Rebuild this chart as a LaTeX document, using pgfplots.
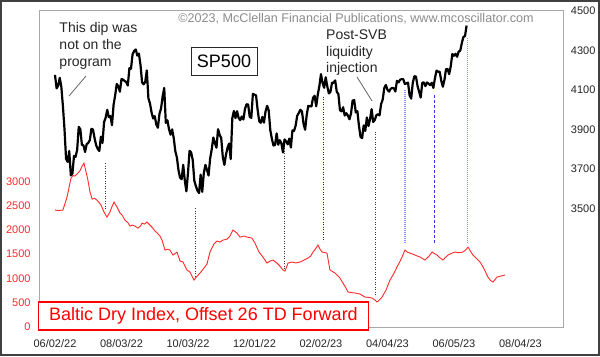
\documentclass[border=0pt]{standalone}
\usepackage{pgfplots}
\pgfplotsset{compat=1.18}
\usepackage{fontspec}
\setmainfont{Liberation Sans}
\definecolor{bdired}{HTML}{FF2A2A}
\definecolor{frame}{HTML}{A8A8A8}
\definecolor{lblue}{HTML}{8C8CFF}
\begin{document}
\begin{tikzpicture}[x=1bp,y=1bp]
\useasboundingbox (0,0) rectangle (600,356);
\fill[white] (0,0) rectangle (600,356);
% ---------------- Baltic Dry Index (left axis) ----------------
\begin{axis}[at={(39bp,29bp)}, anchor=south west, scale only axis,
  width=524bp, height=317bp,
  xmin=-10.1, xmax=320.9, ymin=0, ymax=6530,
  axis line style={frame, line width=0.8bp},
  tick style={draw=none},
  xtick={0,42,84,126,168,210,252,294},
  xticklabels={06/02/22,08/03/22,10/03/22,12/01/22,02/02/23,04/04/23,06/05/23,08/04/23},
  ytick={0,500,1000,1500,2000,2500,3000},
  scaled y ticks=false,
  /pgf/number format/1000 sep={},
  /pgf/number format/assume math mode=true,
  xticklabel style={font=\fontsize{11bp}{13bp}\selectfont, text=black!85, anchor=base, inner sep=0pt, yshift=-20.3bp},
  yticklabel style={font=\fontsize{11bp}{13bp}\selectfont, text=bdired, anchor=east, inner sep=0pt, xshift=-8.3bp},
  clip=false,
]
\addplot[bdired, line width=0.9bp] coordinates {
(0,2408) (2,2400) (5,2408) (7.6,2675) (10.1,3066) (11.3,3120) (12.6,3108) (14.5,3169)
(16,3230) (17.1,3313) (18.3,3375) (19.5,3210) (20.8,3025) (22,2800) (23.4,2634)
(25,2650) (26.5,2614) (28,2560) (29.1,2510) (31,2367) (32.8,2264) (34.7,2367)
(36,2480) (37.3,2572) (39.2,2470) (41.1,2346) (42.5,2300) (44.2,2202) (46,2150)
(47.4,2079) (49,2100) (50.5,2079) (52.4,2037) (54,2080) (55,2140) (56.5,2120)
(58.1,2161) (60,2099) (61.5,2050) (63.2,1976) (64.8,1930) (66.3,1873) (67.6,1790)
(69.5,1585) (71,1600) (72.6,1585) (74.5,1482) (77.1,1543) (79,1358) (80.9,1338)
(82,1260) (83.4,1173) (85.3,1132) (86.5,1050) (87.8,967) (89.5,1040) (91.6,1111)
(94.1,1214) (96,1297) (97.9,1544) (100.4,1708) (102.3,1770) (104.2,1749) (106.1,1790)
(108.7,1811) (110.5,1873) (112.4,1996) (115,1935) (116.9,1852) (119.4,1873)
(121.3,1852) (124.4,1832) (126.3,1729) (128.9,1544) (131.4,1440) (133.9,1317)
(135.8,1358) (137.7,1379) (140.2,1317) (142.1,1255) (144,1173) (145.3,1152)
(147.2,1317) (149.7,1338) (152.2,1320) (154.8,1338) (157.3,1379) (159.8,1420)
(161.5,1460) (163,1544) (164.9,1626) (166.1,1688) (167.5,1600) (168.7,1544)
(171.8,1523) (173.7,1173) (176.9,1111) (178.5,1060) (180,1008) (181.9,906)
(183.5,820) (185.1,720) (187,710) (189.5,700) (192.7,679) (195.8,617) (198,610)
(200.3,597) (202,560) (203.4,514) (205,560) (206.6,617) (209.1,761) (211.6,967)
(214.2,1111) (216,1235) (217.6,1330) (219.2,1440) (221.1,1585) (222.7,1540)
(224.3,1523) (226,1500) (227.4,1482) (229,1460) (230.6,1440) (233.7,1379)
(236.3,1461) (238.2,1544) (239.8,1510) (241.3,1482) (243,1430) (245.1,1379)
(246.5,1430) (248.3,1482) (250.5,1520) (252.7,1544) (255,1530) (257.7,1544)
(259.5,1590) (260.9,1646) (262.5,1560) (264,1482) (266,1420) (268.5,1338)
(270.4,1235) (272,1130) (273.5,1029) (275,960) (276.7,926) (278,980) (279.2,1029)
(281.7,1050) (284.3,1070)
};
% guide lines
\addplot[black!80, line width=0.7bp, dash pattern=on 1bp off 1.5bp] coordinates {(31.6,3378) (31.6,2410)};
\addplot[black!80, line width=0.7bp, dash pattern=on 1bp off 1.5bp] coordinates {(88.4,2451) (88.4,1009)};
\addplot[black!80, line width=0.7bp, dash pattern=on 1bp off 1.5bp] coordinates {(144.7,3687) (144.7,1174)};
\addplot[black!80, line width=0.7bp, dash pattern=on 1bp off 1.5bp] coordinates {(202.2,4017) (202.2,618)};
\addplot[blue, line width=0.8bp, dash pattern=on 1bp off 1.5bp] coordinates {(169.3,4738) (169.3,1751)};
\addplot[lblue, line width=1.1bp, dash pattern=on 1bp off 1bp] coordinates {(221.1,4882) (221.1,1730)};
\addplot[blue!80, line width=0.9bp, dash pattern=on 3bp off 2bp] coordinates {(239.5,4779) (239.5,1730)};
\addplot[lblue, line width=1.1bp, dash pattern=on 1bp off 1bp] coordinates {(260.3,5953) (260.3,1730)};
\end{axis}
% ---------------- SP500 (right axis) ----------------
\begin{axis}[at={(39bp,29bp)}, anchor=south west, scale only axis,
  width=524bp, height=317bp,
  xmin=-10.1, xmax=320.9, ymin=2898, ymax=4505,
  hide x axis, axis y line*=right,
  axis line style={frame, line width=0.8bp},
  tick style={draw=none},
  ytick={3500,3700,3900,4100,4300,4500},
  scaled y ticks=false,
  /pgf/number format/1000 sep={},
  /pgf/number format/assume math mode=true,
  yticklabel style={font=\fontsize{11bp}{13bp}\selectfont, text=black!85, anchor=west, inner sep=0pt, xshift=7.7bp},
]
\addplot[black, line width=2.2bp, line join=round] table {
0 4176
1 4108
2 4121
3 4161
4 4116
5 4018
6 3901
7 3750
8 3735
9 3790
10 3667
11 3675
12 3765
13 3760
14 3796
15 3912
16 3901
17 3821
18 3819
19 3785
20 3825
21 3831
22 3845
23 3903
24 3899
25 3855
26 3819
27 3801
28 3790
29 3863
30 3831
31 3937
32 3959
33 3999
34 3962
35 3967
36 3921
37 4024
38 4072
39 4130
40 4119
41 4091
42 4155
43 4152
44 4145
45 4140
46 4122
47 4210
48 4207
49 4280
50 4297
51 4305
52 4274
53 4284
54 4228
55 4138
56 4128
57 4141
58 4199
59 4058
60 4031
61 3986
62 3955
63 3967
64 3924
65 3908
66 3979
67 4006
68 4067
69 4110
70 3933
71 3946
72 3901
73 3873
74 3900
75 3856
76 3790
77 3758
78 3693
79 3655
80 3647
81 3720
82 3640
83 3586
84 3678
85 3791
86 3783
87 3745
88 3640
89 3612
90 3589
91 3577
92 3670
93 3583
94 3677
95 3720
96 3695
97 3666
98 3752
99 3798
100 3859
101 3831
102 3807
103 3901
104 3872
105 3856
106 3760
107 3720
108 3771
109 3807
110 3828
111 3749
112 3956
113 3993
114 3957
115 3992
116 3958
117 3947
118 3965
119 3950
120 4003
121 4027
122 4026
123 3964
124 3958
125 4080
126 4076
127 4072
128 3999
129 3941
130 3933
131 3963
132 3934
133 3991
134 4019
135 3996
136 3896
137 3852
138 3818
139 3821
140 3879
141 3822
142 3845
143 3829
144 3783
145 3849
146 3839
147 3824
148 3853
149 3808
150 3895
151 3892
152 3919
153 3969
154 3983
155 3999
156 3991
157 3928
158 3898
159 3973
160 4019
161 4017
162 4016
163 4060
164 4070
165 4017
166 4077
167 4119
168 4180
169 4136
170 4111
171 4164
172 4118
173 4082
174 4090
175 4137
176 4136
177 4148
178 4090
179 4079
180 3997
181 3991
182 4012
183 3970
184 3982
185 3970
186 3951
187 3981
188 4046
189 4048
190 3986
191 3992
192 3918
193 3862
194 3855
195 3920
196 3892
197 3960
198 3917
199 3951
200 4002
201 3937
202 3948
203 3971
204 3977
205 3971
206 4028
207 4051
208 4109
209 4125
210 4101
211 4091
212 4105
213 4110
214 4108
215 4092
216 4146
217 4138
218 4151
219 4155
220 4154
221 4130
222 4133
223 4137
224 4072
225 4056
226 4136
227 4169
228 4168
229 4120
230 4091
231 4061
232 4136
233 4138
234 4119
235 4138
236 4131
237 4124
238 4136
239 4110
240 4159
241 4198
242 4192
243 4192
244 4146
245 4116
246 4151
247 4205
248 4206
249 4180
250 4221
251 4282
252 4273
253 4283
254 4268
255 4294
256 4299
257 4338
258 4369
259 4373
260 4426
};
\end{axis}
% ---------------- annotations ----------------
\node[anchor=base, text=black!45, font=\fontsize{12.6bp}{14bp}\selectfont, inner sep=0pt] at (356,333.3)
  {©2023, McClellan Financial Publications, www.mcoscillator.com};
\node[anchor=base west, align=left, text=black!85, font=\fontsize{14bp}{16.7bp}\selectfont, inner sep=0pt] at (59.3,290)
  {This dip was\\not on the\\program};
\draw[black!60, line width=0.8bp] (69,260) -- (86,280);
\node[anchor=base west, align=left, text=black!85, font=\fontsize{14bp}{16.7bp}\selectfont, inner sep=0pt] at (326,283.3)
  {Post-SVB\\liquidity\\injection};
\draw[black!60, line width=0.8bp] (357,279) -- (372,255);
\node[draw=black!85, line width=0.9bp, fill=white, minimum width=66bp, minimum height=28bp, inner sep=0pt,
  font=\fontsize{18bp}{20bp}\selectfont] at (224,295) {SP500};
\node[draw=red, line width=1.1bp, fill=white, minimum width=330bp, minimum height=28bp, inner sep=0pt,
  text=red, font=\fontsize{18bp}{20bp}\selectfont] at (203.4,40) {Baltic Dry Index, Offset 26 TD Forward};
% outer frame
\draw[black!75, line width=1.6bp] (0.8,0.8) rectangle (599.2,355.2);
\end{tikzpicture}
\end{document}
